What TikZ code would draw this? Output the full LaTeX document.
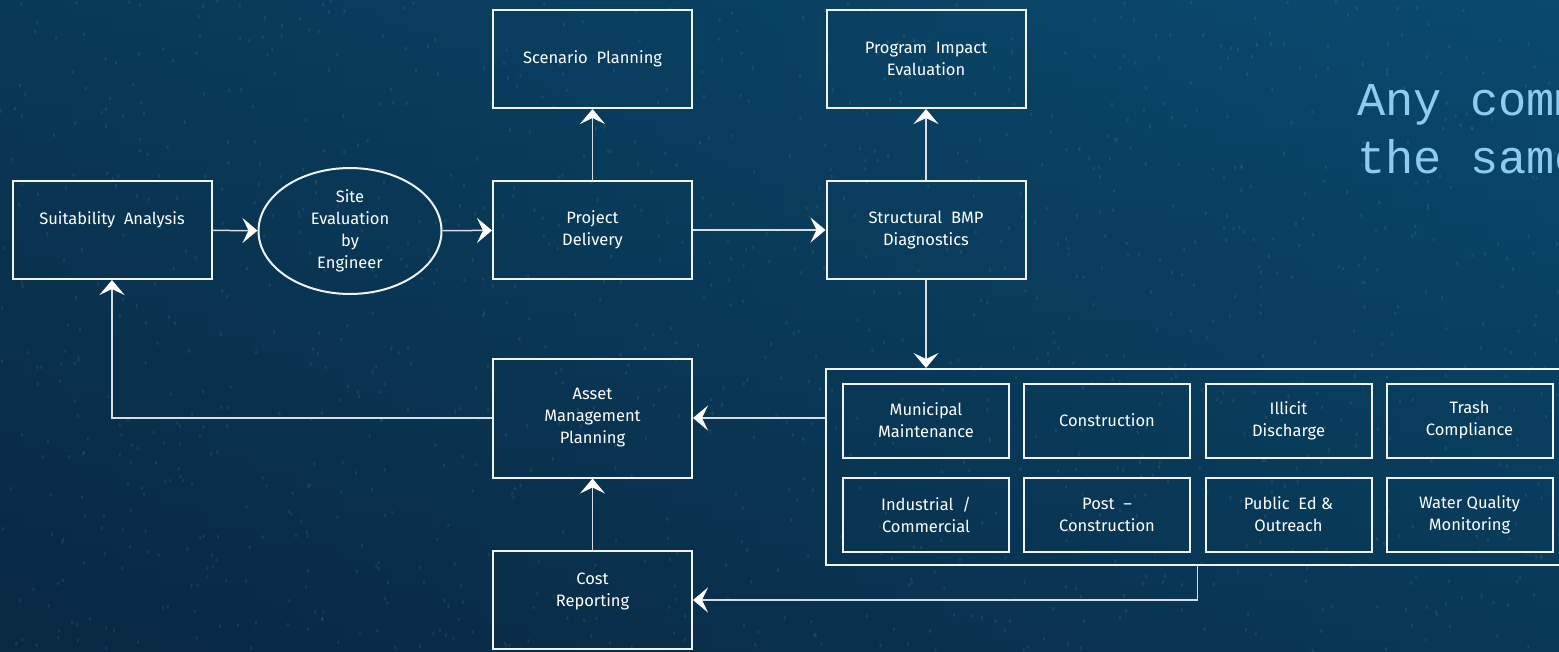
\documentclass[tikz,border=0pt]{standalone}
\usepackage{fontspec}
\setmainfont{Fira Sans}
\setmonofont{Liberation Mono}
\usetikzlibrary{arrows.meta,shapes.geometric}
\definecolor{boxline}{RGB}{240,244,247}
\definecolor{flowline}{RGB}{214,222,228}
\definecolor{noteblue}{RGB}{142,204,236}
\definecolor{deepnavy}{RGB}{9,40,66}
\definecolor{oceanblue}{RGB}{10,74,110}

\begin{document}
\begin{tikzpicture}[x=1pt,y=-1pt,
    box/.style={draw=boxline,line width=2pt,minimum width=199pt,minimum height=98pt,
        align=center,text=white,font=\fontsize{16.5}{22}\selectfont},
    cell/.style={box,minimum width=166pt,minimum height=74pt},
    flow/.style={draw=flowline,line width=1.5pt,
        -{Stealth[length=15pt,width=25pt,inset=6pt,color=white]}}]
    % Background
    \clip (0,0) rectangle (1559,651);
    \shade[left color=deepnavy,right color=oceanblue] (0,0) rectangle (1559,651);
    \shade[top color=oceanblue,bottom color=deepnavy,opacity=0.5] (0,0) rectangle (1559,651);
    \pgfmathsetseed{42}
    \foreach \i in {1,...,1200} {
        \fill[white,opacity=0.07] ({1559*rnd},{651*rnd}) ellipse (1.2 and 2);
    }
    % Top row
    \node[box,text depth=23pt] (suit) at (112,230) {Suitability\ \ Analysis};
    \node[box,ellipse,minimum width=183pt,minimum height=118pt] (site) at (350,231) {Site\\Evaluation\\by\\Engineer};
    \node[box] (deliv) at (592.5,230) {Project\\Delivery};
    \node[box] (scen) at (592.5,59) {Scenario\ \ Planning};
    \node[box] (impact) at (926,59) {Program\ \ Impact\\Evaluation};
    \node[box] (diag) at (926,230) {Structural\ \ BMP\\Diagnostics};
    % Bottom row
    \node[box,minimum height=119pt] (asset) at (592.5,418) {Asset\\Management\\Planning};
    \node[box,text depth=21pt] (cost) at (592.5,600) {Cost\\Reporting};
    \node[draw=boxline,line width=2pt,minimum width=743pt,minimum height=196pt] (bmp) at (1197.5,467) {};
    \foreach \name/\x/\y/\txt in {
        muni/926/420.5/{Municipal\\Maintenance},
        constr/1107/420.5/{Construction},
        illicit/1288.5/420.5/{Illicit\\Discharge},
        trash/1469.5/420.5/{Trash\\Compliance},
        indus/926/514.5/{Industrial\ \ /\\Commercial},
        post/1107/514.5/{Post\ \ --\\Construction},
        public/1288.5/514.5/{Public\ \ Ed \&\\Outreach},
        water/1469.5/514.5/{Water Quality\\Monitoring}} {
        \node[cell] (\name) at (\x,\y) {\txt};
    }
    % Arrows
    \draw[flow] (suit) -- (site);
    \draw[flow] (site) -- (deliv);
    \draw[flow] (deliv) -- (diag);
    \draw[flow] (deliv) -- (scen);
    \draw[flow] (diag) -- (impact);
    \draw[flow] (diag.south) -- (diag.south |- bmp.north);
    \draw[flow] (asset.east -| bmp.west) -- (asset.east);
    \draw[flow] (asset.west) -| (suit.south);
    \draw[flow] (cost) -- (asset);
    \draw[flow] (bmp.south) |- (cost.east);
    % Note
    \node[anchor=base west,inner sep=0pt,align=left,text=noteblue,
        font=\ttfamily\fontsize{47}{58}\selectfont] (note) at (1357,173) {Any comm\\the same};
\end{tikzpicture}
\end{document}
